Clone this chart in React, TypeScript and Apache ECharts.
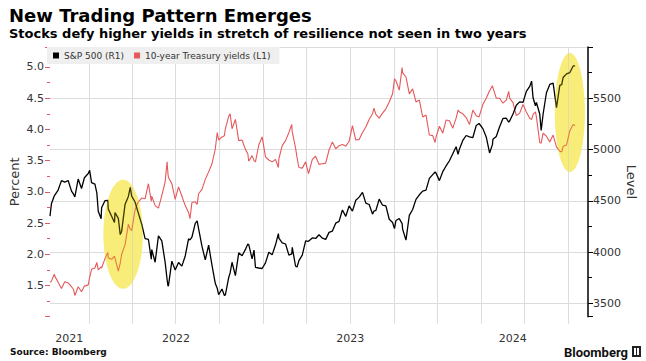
import React, { useEffect, useRef } from "react";
import * as echarts from "echarts";

const dates: string[] = [
  "2021-10-12","2021-10-15","2021-10-21","2021-10-22","2021-10-29","2021-11-05","2021-11-12","2021-11-19","2021-11-26","2021-11-30",
  "2021-12-03","2021-12-10","2021-12-17","2021-12-23","2021-12-31","2022-01-03","2022-01-07","2022-01-14","2022-01-18","2022-01-21",
  "2022-01-27","2022-01-28","2022-02-04","2022-02-10","2022-02-11","2022-02-18","2022-02-24","2022-02-25","2022-03-04","2022-03-08",
  "2022-03-11","2022-03-18","2022-03-25","2022-03-29","2022-04-01","2022-04-08","2022-04-14","2022-04-22","2022-04-29","2022-05-06",
  "2022-05-12","2022-05-13","2022-05-20","2022-05-27","2022-06-03","2022-06-10","2022-06-14","2022-06-16","2022-06-17","2022-06-24",
  "2022-07-01","2022-07-08","2022-07-15","2022-07-22","2022-07-29","2022-08-01","2022-08-05","2022-08-12","2022-08-16","2022-08-19",
  "2022-08-26","2022-09-02","2022-09-09","2022-09-16","2022-09-23","2022-09-27","2022-09-30","2022-10-07","2022-10-12","2022-10-14",
  "2022-10-21","2022-10-24","2022-10-28","2022-11-04","2022-11-11","2022-11-18","2022-11-25","2022-11-30","2022-12-02","2022-12-09",
  "2022-12-13","2022-12-16","2022-12-23","2022-12-30","2023-01-06","2023-01-13","2023-01-20","2023-01-27","2023-02-02","2023-02-03",
  "2023-02-10","2023-02-17","2023-02-24","2023-03-02","2023-03-03","2023-03-10","2023-03-13","2023-03-17","2023-03-24","2023-03-31",
  "2023-04-06","2023-04-14","2023-04-21","2023-04-28","2023-05-05","2023-05-12","2023-05-19","2023-05-26","2023-06-02","2023-06-09",
  "2023-06-16","2023-06-23","2023-06-30","2023-07-07","2023-07-14","2023-07-21","2023-07-28","2023-08-04","2023-08-11","2023-08-18",
  "2023-08-21","2023-08-25","2023-09-01","2023-09-08","2023-09-15","2023-09-22","2023-09-29","2023-10-03","2023-10-06","2023-10-13",
  "2023-10-19","2023-10-20","2023-10-27","2023-11-03","2023-11-10","2023-11-17","2023-11-24","2023-12-01","2023-12-08","2023-12-15",
  "2023-12-22","2023-12-27","2023-12-29","2024-01-05","2024-01-12","2024-01-19","2024-01-26","2024-02-02","2024-02-09","2024-02-13",
  "2024-02-16","2024-02-23","2024-03-01","2024-03-08","2024-03-15","2024-03-22","2024-03-28","2024-04-05","2024-04-12","2024-04-19",
  "2024-04-25","2024-04-26","2024-05-03","2024-05-10","2024-05-17","2024-05-24","2024-05-29","2024-05-31","2024-06-07","2024-06-14",
  "2024-06-21","2024-06-28","2024-07-05","2024-07-12","2024-07-16","2024-07-19","2024-07-24","2024-07-26","2024-08-02","2024-08-05",
  "2024-08-09","2024-08-16","2024-08-23","2024-08-30","2024-09-06","2024-09-13","2024-09-17","2024-09-20","2024-09-27","2024-10-04",
  "2024-10-11","2024-10-15"
];

const spx: number[] = [
  4351,4471,4549,4545,4605,4697,4682,4698,4595,4567,
  4538,4712,4620,4725,4766,4797,4677,4662,4577,4398,
  4326,4432,4501,4504,4419,4349,4288,4385,4329,4171,
  4204,4463,4543,4632,4546,4488,4393,4272,4132,4123,
  3930,4024,3901,4158,4109,3901,3735,3667,3675,3912,
  3825,3899,3863,3962,4130,4119,4145,4280,4305,4228,
  4058,3924,4067,3873,3693,3647,3586,3640,3577,3583,
  3752,3797,3901,3771,3993,3965,4026,4080,4072,3934,
  4020,3852,3845,3840,3895,3999,3973,4071,4180,4136,
  4090,4079,3970,3982,4046,3862,3855,3917,3971,4109,
  4105,4138,4133,4169,4136,4124,4192,4205,4282,4299,
  4410,4348,4450,4399,4505,4536,4582,4478,4464,4370,
  4400,4406,4516,4457,4450,4320,4288,4229,4308,4327,
  4278,4224,4117,4358,4415,4514,4559,4595,4604,4719,
  4755,4781,4770,4697,4784,4840,4891,4959,5027,4953,
  5006,5089,5137,5124,5117,5234,5254,5204,5123,4967,
  5048,5100,5128,5223,5303,5305,5267,5278,5347,5432,
  5465,5460,5567,5615,5667,5505,5427,5459,5347,5186,
  5344,5554,5635,5648,5408,5626,5634,5703,5738,5751,
  5815,5816
];

const ust10y: number[] = [
  1.55,1.57,1.68,1.65,1.55,1.45,1.56,1.54,1.48,1.44,
  1.34,1.48,1.40,1.49,1.51,1.63,1.76,1.78,1.87,1.75,
  1.80,1.78,1.93,2.03,1.94,1.92,1.97,1.97,1.73,1.86,
  2.00,2.15,2.48,2.40,2.38,2.71,2.83,2.90,2.89,3.13,
  2.85,2.93,2.78,2.74,2.94,3.16,3.48,3.28,3.23,3.13,
  2.88,3.08,2.93,2.78,2.67,2.57,2.83,2.84,2.80,2.97,
  3.04,3.20,3.32,3.45,3.69,3.95,3.83,3.88,3.90,4.01,
  4.21,4.25,4.01,4.16,3.82,3.83,3.68,3.61,3.49,3.58,
  3.50,3.48,3.75,3.88,3.56,3.51,3.48,3.52,3.39,3.53,
  3.74,3.82,3.95,4.08,3.96,3.70,3.55,3.39,3.38,3.48,
  3.29,3.52,3.57,3.44,3.45,3.46,3.67,3.80,3.69,3.74,
  3.76,3.73,3.81,4.06,3.83,3.84,3.95,4.04,4.16,4.25,
  4.34,4.24,4.18,4.26,4.33,4.44,4.57,4.81,4.78,4.63,
  4.99,4.91,4.84,4.57,4.65,4.44,4.47,4.20,4.23,3.91,
  3.90,3.79,3.88,4.05,3.94,4.15,4.14,4.02,4.18,4.31,
  4.28,4.25,4.19,4.08,4.31,4.22,4.20,4.40,4.50,4.62,
  4.70,4.67,4.50,4.50,4.42,4.47,4.61,4.50,4.43,4.22,
  4.26,4.40,4.28,4.18,4.16,4.24,4.28,4.20,3.79,3.78,
  3.94,3.89,3.80,3.91,3.72,3.65,3.64,3.73,3.75,3.98,
  4.08,4.06
];

const quarterStarts: string[] = [
  "2022-01-01","2022-04-01","2022-07-01","2022-10-01",
  "2023-01-01","2023-04-01","2023-07-01","2023-10-01",
  "2024-01-01","2024-04-01","2024-07-01","2024-10-01"
];

const yearLabels: string[] = ["2021", "2022", "2023", "2024"];

const xMin = "2021-10-12";
const xMax = "2024-11-11";
const leftMin = 1;
const leftMax = 5.32;

// highlight annotations: center date, center value (left axis), radii in px
const highlightDates: string[] = ["2022-03-14", "2024-10-04"];
const highlightValues: number[] = [2.32, 4.27];
const highlightRx: number[] = [19.7, 15];
const highlightRy: number[] = [54.5, 59.5];

const RED = "#e5585b";
const GRID = "#dcdcdc";
const FONT = "DejaVu Sans";

export default function App() {
  const ref = useRef<HTMLDivElement>(null);

  useEffect(() => {
    if (!ref.current) return;
    const chart = echarts.init(ref.current, undefined, { renderer: "svg" });

    const option: any = {
      animation: false,
      backgroundColor: "#ffffff",
      textStyle: { fontFamily: FONT },
      grid: { left: 48, right: 51, top: 47, bottom: 44.3, containLabel: false },
      legend: {
        left: 47,
        top: 47,
        backgroundColor: "#efefef",
        padding: [4, 9, 4, 6],
        itemWidth: 6,
        itemHeight: 6,
        itemGap: 10,
        icon: "rect",
        textStyle: { fontSize: 9, color: "#333", fontFamily: FONT },
        data: ["S&P 500 (R1)", "10-year Treasury yields (L1)"],
      },
      xAxis: {
        type: "time",
        min: +new Date(xMin),
        max: +new Date(xMax),
        axisLine: { show: false },
        axisTick: { show: false },
        axisLabel: { show: false },
        splitLine: { show: false },
      },
      yAxis: [
        {
          type: "value",
          position: "left",
          min: leftMin,
          max: leftMax,
          interval: 0.5,
          name: "Percent",
          nameLocation: "middle",
          nameRotate: 90,
          nameGap: 29,
          nameMoveOverlap: false,
          nameTextStyle: { fontSize: 13, color: "#333", fontFamily: FONT },
          axisLine: { show: false },
          axisTick: { show: true, length: 5, lineStyle: { color: RED, width: 1 } },
          minorTick: { show: true, splitNumber: 2, length: 3, lineStyle: { color: RED, width: 1 } },
          axisLabel: {
            color: "#333",
            fontSize: 11,
            margin: 6,
            showMinLabel: false,
            showMaxLabel: false,
            formatter: (v: number) => v.toFixed(1),
          },
          splitLine: { show: false },
        },
        {
          type: "value",
          position: "right",
          min: 3370,
          max: 6000,
          name: "Level",
          nameLocation: "middle",
          nameRotate: -90,
          nameGap: 37,
          nameMoveOverlap: false,
          nameTextStyle: { fontSize: 13, color: "#333", fontFamily: FONT },
          axisLine: { show: true, lineStyle: { color: "#000", width: 1.5 } },
          axisTick: { show: true, length: 5, lineStyle: { color: "#000", width: 1 } },
          minorTick: { show: true, splitNumber: 2, length: 4, lineStyle: { color: "#000", width: 1 } },
          axisLabel: {
            color: "#333",
            fontSize: 11,
            margin: 5,
            showMinLabel: false,
            showMaxLabel: false,
            formatter: (v: number) => String(Math.round(v)),
          },
          splitLine: { show: true, showMinLine: false, lineStyle: { color: GRID, width: 1 } },
        },
      ],
      series: [
        {
          name: "10-year Treasury yields (L1)",
          type: "line",
          yAxisIndex: 0,
          showSymbol: false,
          symbol: "none",
          color: RED,
          lineStyle: { color: RED, width: 1.1 },
          data: dates.map((d, i) => [+new Date(d), ust10y[i]]),
          z: 2,
        },
        {
          name: "S&P 500 (R1)",
          type: "line",
          yAxisIndex: 1,
          showSymbol: false,
          symbol: "none",
          color: "#000",
          lineStyle: { color: "#000", width: 1.3 },
          data: dates.map((d, i) => [+new Date(d), spx[i]]),
          z: 3,
        },
      ],
    };

    chart.setOption(option);

    const toX = (d: string) => chart.convertToPixel({ xAxisIndex: 0 }, +new Date(d)) as number;
    const toY = (v: number) => chart.convertToPixel({ yAxisIndex: 0 }, v) as number;

    const xMinPx = toX(xMin);
    const xMaxPx = toX(xMax);
    const yTop = toY(leftMax);
    const yBottom = toY(leftMin);

    const gridRects = quarterStarts.map((q) => ({
      type: "rect",
      z: 1,
      silent: true,
      shape: { x: Math.round(toX(q)), y: yTop, width: 1, height: yBottom - yTop + 7 },
      style: { fill: GRID },
    }));

    const yearTexts = yearLabels.map((y) => {
      const s = Math.max(toX(`${y}-01-01`), xMinPx);
      const e = Math.min(toX(`${Number(y) + 1}-01-01`), xMaxPx);
      return {
        type: "text",
        x: (s + e) / 2,
        y: 338,
        style: {
          text: y,
          fill: "#333",
          font: `11px '${FONT}'`,
          align: "center",
          verticalAlign: "middle",
        },
      };
    });

    const ellipsesUnder = highlightDates.map((d, i) => ({
      type: "ellipse",
      z: 0,
      silent: true,
      shape: { cx: toX(d), cy: toY(highlightValues[i]), rx: highlightRx[i], ry: highlightRy[i] },
      style: { fill: "#fbf3a0" },
    }));
    const ellipsesOver = highlightDates.map((d, i) => ({
      type: "ellipse",
      z: 50,
      silent: true,
      shape: { cx: toX(d), cy: toY(highlightValues[i]), rx: highlightRx[i], ry: highlightRy[i] },
      style: { fill: "rgba(240,220,0,0.25)" },
    }));

    chart.setOption({
      graphic: [
        ...ellipsesUnder,
        ...gridRects,
        {
          type: "text",
          x: 9,
          y: 15.5,
          style: {
            text: "New Trading Pattern Emerges",
            fill: "#000",
            font: `bold 18px '${FONT}'`,
            verticalAlign: "middle",
          },
        },
        {
          type: "text",
          x: 9,
          y: 33.3,
          style: {
            text: "Stocks defy higher yields in stretch of resilience not seen in two years",
            fill: "#000",
            font: `bold 13px '${FONT}'`,
            verticalAlign: "middle",
          },
        },
        {
          type: "text",
          x: 10,
          y: 352,
          style: {
            text: "Source: Bloomberg",
            fill: "#111",
            font: `bold 9px '${FONT}'`,
            verticalAlign: "middle",
          },
        },
        {
          type: "text",
          x: 628,
          y: 352,
          style: {
            text: "Bloomberg",
            fill: "#111",
            font: "bold 13px Roboto",
            align: "right",
            verticalAlign: "middle",
          },
        },
        { type: "rect", shape: { x: 632, y: 346, width: 9, height: 11 }, style: { fill: "#222" } },
        { type: "rect", shape: { x: 634, y: 348, width: 2, height: 7 }, style: { fill: "#fff" } },
        { type: "rect", shape: { x: 637, y: 348, width: 2, height: 7 }, style: { fill: "#fff" } },
        ...yearTexts,
        ...ellipsesOver,
      ],
    });

    return () => chart.dispose();
  }, []);

  return (
    <div
      ref={ref}
      style={{ position: "fixed", left: 0, top: 0, width: 646, height: 361, background: "#fff" }}
    />
  );
}
